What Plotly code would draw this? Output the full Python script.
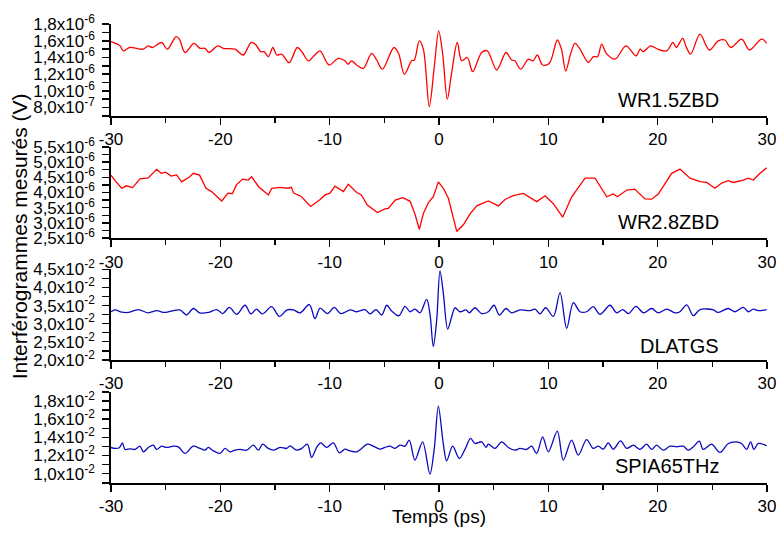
import numpy as np
import plotly.graph_objects as go

# ---------------- data ----------------
x_range = [-30, 30]
x_tickvals = [-30, -20, -10, 0, 10, 20, 30]
x_ticktext = ["-30", "-20", "-10", "0", "10", "20", "30"]

wr15_t = [-30, -29.18, -28.87, -28.3, -27.05, -26.6, -26.2, -25.37, -24.85, -24.05, -23.75, -23.23,
          -22.41, -21.86, -21.4, -21.04, -20.24, -19.73, -18.66, -17.9, -17.2, -16.8, -16.31, -16.0,
          -15.6, -15.2, -14.84, -14.4, -13.7, -12.96, -12.5, -11.95, -11.43, -10.88, -10.06, -9.2,
          -8.6, -8.3, -8.0, -7.53, -6.92, -6.16, -5.7, -5.18, -4.12, -3.7, -3.17, -2.5, -2.25, -1.8,
          -1.43, -0.89, -0.43, -0.03, 0.33, 0.76, 1.15, 1.67, 2.07, 2.59, 3.08, 3.9, 4.42, 5.28,
          6.13, 6.64, 6.94, 7.47, 8.17, 8.6, 8.99, 9.48, 10.1, 10.82, 11.2, 11.59, 12.05, 12.44,
          12.9, 13.66, 14.12, 14.5, 14.88, 15.3, 16.1, 17.1, 18.02, 18.4, 18.67, 19.36, 20.0, 20.83,
          21.4, 21.7, 22.29, 22.6, 23.02, 23.87, 24.72, 25.55, 26.16, 26.68, 27.69, 28.38, 29.52, 29.97]
wr15_v = [1.59, 1.54, 1.48, 1.52, 1.50, 1.54, 1.52, 1.58, 1.50, 1.65, 1.62, 1.46,
          1.57, 1.51, 1.51, 1.46, 1.54, 1.51, 1.50, 1.43, 1.58, 1.56, 1.47, 1.47,
          1.41, 1.52, 1.43, 1.44, 1.34, 1.52, 1.46, 1.36, 1.42, 1.48, 1.31, 1.39,
          1.36, 1.32, 1.36, 1.31, 1.27, 1.45, 1.37, 1.26, 1.52, 1.45, 1.20, 1.36, 1.37, 1.60,
          1.50, 0.81, 1.29, 1.72, 1.45, 0.90, 1.21, 1.58, 1.36, 1.40, 1.23, 1.46, 1.48, 1.25,
          1.46, 1.37, 1.36, 1.26, 1.38, 1.36, 1.43, 1.31, 1.33, 1.61, 1.50, 1.24, 1.45, 1.57,
          1.50, 1.34, 1.41, 1.41, 1.56, 1.45, 1.38, 1.54, 1.42, 1.50, 1.47, 1.54, 1.50, 1.48,
          1.58, 1.52, 1.63, 1.53, 1.44, 1.68, 1.49, 1.60, 1.61, 1.52, 1.62, 1.49, 1.62, 1.57]  # x1e-6 V

wr28_t = [-30, -29.63, -29.02, -28.6, -28.02, -27.35, -26.6, -25.82, -25.4, -25.0, -24.5, -24.0,
          -23.54, -22.8, -22.47, -21.9, -21.31, -20.8, -19.87, -19.3, -18.9, -18.53, -17.96, -17.45,
          -17.14, -16.5, -15.6, -15.3, -14.55, -13.8, -13.5, -13.3, -12.6, -11.74, -10.9, -10.42,
          -9.97, -9.51, -8.75, -8.3, -7.53, -7.1, -6.56, -5.64, -4.94, -4.64, -4.0, -3.32, -2.64,
          -2.18, -1.8, -1.43, -0.98, -0.52, -0.06, 0.4, 0.86, 1.16, 1.62, 2.23, 2.84, 3.45, 4.51,
          5.43, 6.04, 6.8, 7.71, 8.94, 9.7, 10.46, 11.31, 12.14, 13.36, 14.27, 15.34, 15.95, 16.32,
          17.17, 17.9, 18.84, 19.45, 20.06, 21.28, 22.04, 22.96, 23.87, 24.48, 25.24, 25.85, 26.46,
          26.92, 27.83, 28.29, 28.75, 29.36, 29.97]
wr28_v = [4.57, 4.39, 4.14, 4.22, 4.16, 4.45, 4.48, 4.76, 4.63, 4.67, 4.54, 4.58,
          4.35, 4.52, 4.63, 4.57, 4.14, 4.03, 3.72, 3.98, 3.96, 4.25, 4.44, 4.41,
          4.52, 4.19, 3.92, 4.14, 4.17, 4.14, 4.17, 3.98, 3.87, 3.54, 3.76, 3.92,
          3.98, 4.21, 4.03, 4.27, 4.00, 3.92, 3.59, 3.34, 3.46, 3.48, 3.75, 3.83, 3.71,
          3.27, 2.79, 3.31, 3.66, 3.86, 4.35, 4.14, 3.81, 3.37, 2.72, 2.94, 3.30, 3.56, 3.72,
          3.56, 3.77, 3.90, 3.97, 3.70, 3.89, 3.63, 3.19, 3.86, 4.47, 4.47, 3.86, 3.95, 3.86,
          4.08, 4.11, 3.79, 3.78, 3.95, 4.63, 4.77, 4.47, 4.36, 4.33, 4.14, 4.31, 4.39,
          4.33, 4.41, 4.47, 4.41, 4.63, 4.81]  # x1e-6 V

dla_t = [-30, -29.63, -29.02, -28.43, -27.5, -26.6, -25.8, -25.1, -23.7, -23.08, -22.47, -21.9,
         -21.1, -20.33, -19.78, -19.17, -18.5, -17.74, -17.2, -16.7, -16.15, -15.31, -14.6, -13.9,
         -13.3, -12.7, -11.86, -11.34, -10.88, -10.2, -9.57, -8.99, -8.1, -7.53, -6.77, -6.3, -5.76,
         -5.24, -4.78, -4.33, -3.66, -3.11, -2.65, -2.2, -1.74, -1.13, -0.83, -0.52, -0.21, 0.09,
         0.4, 0.79, 1.16, 1.46, 1.92, 2.47, 2.77, 3.29, 3.9, 4.51, 5.03, 5.52, 6.13, 6.65, 7.41,
         8.33, 8.79, 9.24, 9.76, 10.46, 11.07, 11.68, 12.29, 12.9, 13.5, 14.1, 14.73, 15.64, 16.25,
         16.8, 17.32, 18.02, 18.7, 19.45, 20.06, 20.83, 21.59, 22.04, 22.65, 23.26, 23.87, 25.1,
         25.5, 26.46, 27.07, 27.83, 28.29, 28.75, 29.2, 29.97]
dla_v = [3.33, 3.38, 3.32, 3.31, 3.39, 3.30, 3.36, 3.31, 3.38, 3.24, 3.42, 3.30,
         3.31, 3.39, 3.28, 3.45, 3.26, 3.51, 3.27, 3.40, 3.27, 3.47, 3.20, 3.38,
         3.38, 3.30, 3.53, 3.14, 3.43, 3.28, 3.45, 3.28, 3.38, 3.33, 3.39, 3.27, 3.39,
         3.24, 3.51, 3.35, 3.22, 3.48, 3.33, 3.40, 3.30, 3.67, 3.28, 2.37, 3.10, 4.46,
         3.83, 2.85, 3.19, 3.44, 3.33, 3.38, 3.30, 3.44, 3.28, 3.33, 3.51, 3.24, 3.42, 3.30, 3.38,
         3.36, 3.40, 3.27, 3.44, 3.20, 3.86, 2.87, 3.58, 3.33, 3.33, 3.47, 3.26, 3.51, 3.30,
         3.39, 3.28, 3.48, 3.30, 3.42, 3.30, 3.40, 3.30, 3.33, 3.52, 3.22, 3.39, 3.38,
         3.31, 3.42, 3.33, 3.45, 3.33, 3.40, 3.36, 3.39]  # x1e-2 V

spia_t = [-30, -29.63, -29.24, -28.96, -28.72, -28.26, -27.8, -27.35, -27.04, -26.58, -26.13, -25.82,
          -25.37, -24.91, -24.3, -23.84, -23.23, -22.47, -21.86, -21.4, -21.1, -20.64, -20.03, -19.57,
          -19.12, -18.66, -18.2, -17.59, -16.98, -16.52, -16.13, -15.61, -15.15, -14.54, -13.93,
          -13.63, -13.02, -12.56, -12.04, -11.65, -11.19, -10.82, -10.27, -9.66, -9.12, -8.6, -8.14,
          -7.53, -7.07, -6.56, -6.01, -5.4, -4.94, -4.49, -4.03, -3.57, -3.11, -2.72, -2.2, -1.5,
          -0.83, -0.43, -0.06, 0.39, 0.70, 1.25, 1.86, 2.37, 2.89, 3.29, 3.90, 4.30, 4.51, 5.12,
          5.73, 6.34, 6.95, 7.40, 8.01, 8.47, 8.93, 9.48, 10.0, 10.82, 11.37, 12.13, 12.74, 13.5,
          14.11, 14.57, 15.03, 15.48, 15.94, 16.61, 17.16, 17.77, 18.38, 18.99, 19.45, 19.9, 20.51,
          21.12, 21.73, 22.34, 22.8, 23.26, 23.81, 24.17, 24.93, 25.7, 26.46, 27.16, 27.68, 28.14,
          28.5, 28.81, 29.2, 29.97]
spia_v = [1.289, 1.278, 1.285, 1.340, 1.267, 1.274, 1.267, 1.303, 1.241, 1.289, 1.314, 1.267,
          1.303, 1.289, 1.303, 1.296, 1.223, 1.303, 1.278, 1.259, 1.289, 1.252, 1.223, 1.278,
          1.241, 1.259, 1.267, 1.259, 1.314, 1.259, 1.325, 1.278, 1.259, 1.289, 1.278,
          1.307, 1.259, 1.278, 1.325, 1.179, 1.289, 1.340, 1.289, 1.340, 1.230, 1.270, 1.252,
          1.241, 1.278, 1.325, 1.303, 1.270, 1.289, 1.303, 1.278, 1.314, 1.303, 1.369, 1.150, 1.351,
          0.996, 1.278, 1.743, 1.333, 1.142, 1.303, 1.168, 1.267, 1.388, 1.333, 1.351, 1.289, 1.325, 1.278,
          1.351, 1.289, 1.259, 1.278, 1.267, 1.303, 1.223, 1.406, 1.241, 1.468, 1.150, 1.369, 1.204, 1.376,
          1.278, 1.303, 1.270, 1.340, 1.270, 1.362, 1.278, 1.314, 1.267, 1.325, 1.267, 1.314, 1.259,
          1.303, 1.296, 1.303, 1.259, 1.296, 1.358, 1.267, 1.325, 1.234, 1.333, 1.351, 1.333, 1.267,
          1.351, 1.267, 1.333, 1.307]  # x1e-2 V

labels = ["WR1.5ZBD", "WR2.8ZBD", "DLATGS", "SPIA65THz"]

p1_ticks = [0.7, 0.8, 0.9, 1.0, 1.1, 1.2, 1.3, 1.4, 1.5, 1.6, 1.7, 1.8]
p1_text = ["", "8,0x10<sup>-7</sup>", "", "1,0x10<sup>-6</sup>", "", "1,2x10<sup>-6</sup>", "",
           "1,4x10<sup>-6</sup>", "", "1,6x10<sup>-6</sup>", "", "1,8x10<sup>-6</sup>"]
p2_ticks = [2.5, 2.75, 3.0, 3.25, 3.5, 3.75, 4.0, 4.25, 4.5, 4.75, 5.0, 5.25, 5.5]
p2_text = ["2,5x10<sup>-6</sup>", "", "3,0x10<sup>-6</sup>", "", "3,5x10<sup>-6</sup>", "",
           "4,0x10<sup>-6</sup>", "", "4,5x10<sup>-6</sup>", "", "5,0x10<sup>-6</sup>", "",
           "5,5x10<sup>-6</sup>"]
p3_ticks = [2.0, 2.25, 2.5, 2.75, 3.0, 3.25, 3.5, 3.75, 4.0, 4.25, 4.5]
p3_text = ["2,0x10<sup>-2</sup>", "", "2,5x10<sup>-2</sup>", "", "3,0x10<sup>-2</sup>", "",
           "3,5x10<sup>-2</sup>", "", "4,0x10<sup>-2</sup>", "", "4,5x10<sup>-2</sup>"]
p4_ticks = [0.9, 1.0, 1.1, 1.2, 1.3, 1.4, 1.5, 1.6, 1.7, 1.8, 1.9]
p4_text = ["", "1,0x10<sup>-2</sup>", "", "1,2x10<sup>-2</sup>", "", "1,4x10<sup>-2</sup>", "",
           "1,6x10<sup>-2</sup>", "", "1,8x10<sup>-2</sup>", ""]

# ---------------- figure ----------------
RED = "#ff0000"
BLUE = "#0a0ac0"
FONT = "Arial, Liberation Sans, sans-serif"

series = [
    (wr15_t, np.array(wr15_v) * 1e-6, RED, "spline", 1e-6, p1_ticks, p1_text),
    (wr28_t, np.array(wr28_v) * 1e-6, RED, "linear", 1e-6, p2_ticks, p2_text),
    (dla_t, np.array(dla_v) * 1e-2, BLUE, "spline", 1e-2, p3_ticks, p3_text),
    (spia_t, np.array(spia_v) * 1e-2, BLUE, "spline", 1e-2, p4_ticks, p4_text),
]
domains = [[0.7996, 1.0], [0.5331, 0.7327], [0.268, 0.4656], [0.0, 0.1989]]
label_y = [0.834, 0.568, 0.299, 0.036]

fig = go.Figure()
layout = dict(
    width=776, height=537,
    margin=dict(l=111, r=9, t=24, b=54, autoexpand=False),
    paper_bgcolor="white", plot_bgcolor="white",
    showlegend=False,
    font=dict(family=FONT, color="black"),
)
for i, (t, v, col, shape, scale, tv, tt) in enumerate(series):
    n = "" if i == 0 else str(i + 1)
    fig.add_trace(go.Scatter(
        x=t, y=v, mode="lines", xaxis="x" + n, yaxis="y" + n,
        line=dict(color=col, width=1.3, shape=shape, smoothing=0.9 if shape == "spline" else None),
        hoverinfo="skip"))
    tvals = [a * scale for a in tv]
    eps = (tv[-1] - tv[0]) * 0.002 * scale
    layout["xaxis" + n] = dict(
        domain=[0, 1], anchor="y" + n, range=x_range, automargin=False,
        tickmode="array", tickvals=x_tickvals, ticktext=x_ticktext,
        ticks="outside", ticklen=7, tickwidth=1.5, tickcolor="black",
        minor=dict(tickmode="linear", dtick=5, tick0=-30, ticks="outside", ticklen=5,
                   tickwidth=1.5, tickcolor="black"),
        showline=True, linewidth=1.8, linecolor="black",
        showgrid=False, zeroline=False, ticklabeloverflow="allow",
        tickfont=dict(family=FONT, size=17, color="black"),
    )
    layout["yaxis" + n] = dict(
        domain=domains[i], anchor="x" + n, automargin=False,
        range=[tvals[0] - eps, tvals[-1] + eps],
        tickmode="array", tickvals=tvals, ticktext=tt,
        ticks="outside", ticklen=7, tickwidth=1.5, tickcolor="black",
        showline=True, linewidth=1.8, linecolor="black",
        showgrid=False, zeroline=False, ticklabeloverflow="allow",
        tickfont=dict(family=FONT, size=17, color="black"),
        ticklabelstandoff=4,
    )

annotations = []
for i, lab in enumerate(labels):
    annotations.append(dict(text=lab, xref="paper", yref="paper", x=0.930, y=label_y[i],
                            xanchor="right", yanchor="middle", showarrow=False,
                            font=dict(family=FONT, size=20, color="black")))
annotations.append(dict(text="Temps (ps)", xref="paper", yref="paper", x=0.5, y=-0.074,
                        xanchor="center", yanchor="middle", showarrow=False,
                        font=dict(family=FONT, size=19, color="black")))
annotations.append(dict(text="Interférogrammes mesurés (V)", xref="paper", yref="paper",
                        x=-0.139, y=0.537, xanchor="center", yanchor="middle", textangle=-90,
                        showarrow=False, font=dict(family=FONT, size=21, color="black")))
layout["annotations"] = annotations

fig.update_layout(**layout)
fig.write_html("out.html", config={"displayModeBar": False, "staticPlot": True},
               post_script="document.body.style.margin='0px';document.body.style.overflow='hidden';")
